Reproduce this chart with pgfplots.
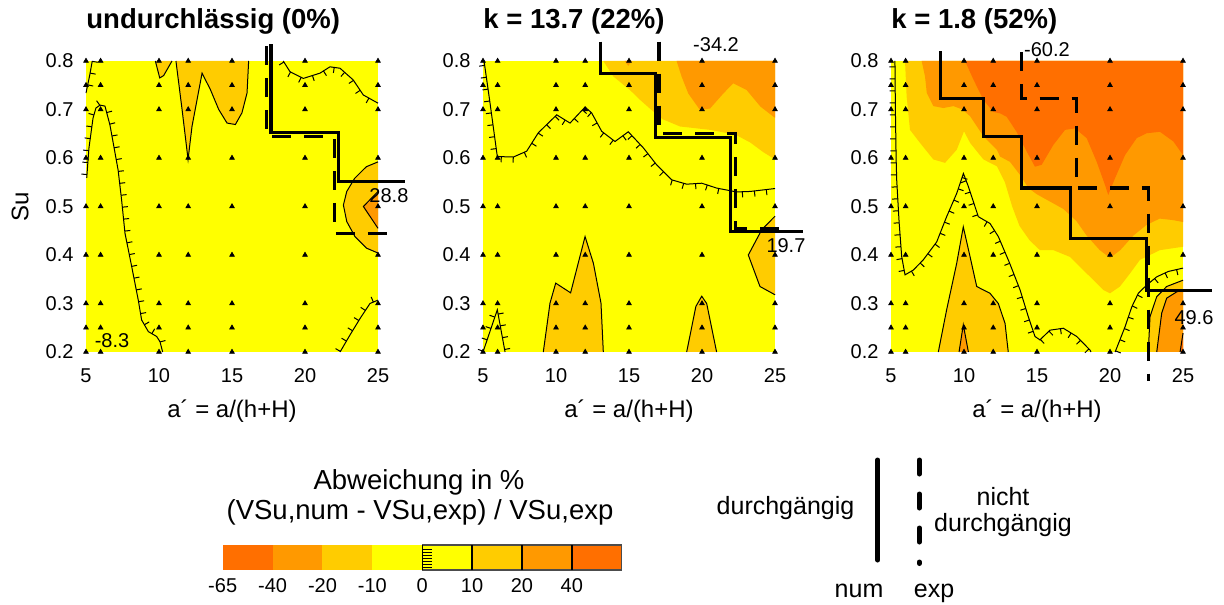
\documentclass[border=0pt]{standalone}
\usepackage{pgfplots}
\pgfplotsset{compat=1.18}
\usepackage{pgfplotstable}
\usetikzlibrary{decorations.markings}
\usepackage{fontspec}
\setmainfont{Liberation Sans}

\definecolor{cY}{HTML}{FFFF00}
\definecolor{cLO}{HTML}{FFCC00}
\definecolor{cO}{HTML}{FF9900}
\definecolor{cD}{HTML}{FF6F00}

\newcommand{\fTick}{\fontsize{10pt}{12pt}\selectfont}
\newcommand{\fLab}{\fontsize{12pt}{14pt}\selectfont}
\newcommand{\fTitle}{\fontsize{13.75pt}{16pt}\selectfont\bfseries}
\newcommand{\fLeg}{\fontsize{13.75pt}{16pt}\selectfont}
\newcommand{\fLegB}{\fontsize{12.5pt}{15pt}\selectfont}

\tikzset{
  hatchL/.style={postaction={decorate}, decoration={markings, mark=between positions 0.01 and 1 step 6pt with {\draw[line width=0.5pt] (0,0) -- (0,2.8pt);}}},
  hatchR/.style={postaction={decorate}, decoration={markings, mark=between positions 0.01 and 1 step 6pt with {\draw[line width=0.5pt] (0,0) -- (0,-2.8pt);}}},
}

\pgfplotsset{
  panel/.style={width=146pt, height=145.5pt, scale only axis, anchor=center,
    disabledatascaling,
    xmin=5, xmax=25, ymin=0.2, ymax=0.8, clip=false,
    axis line style={draw=none}, tick style={draw=none}, major tick length=0pt,
    xtick={5,10,15,20,25}, xticklabels={5,10,15,20,25},
    ytick={0.2,0.3,0.4,0.5,0.6,0.7,0.8}, yticklabels={0.2,0.3,0.4,0.5,0.6,0.7,0.8},
    ticklabel style={font=\fTick},
    xticklabel style={yshift=-4.7pt}, yticklabel style={xshift=-2.7pt},
    /pgf/number format/assume math mode=true},
  cont/.style={line width=0.5pt, black},
  stairS/.style={line width=1.6pt, black},
  stairD/.style={line width=1.6pt, black, dash pattern=on 9.5pt off 6.5pt},
  tri/.style={only marks, mark=triangle*, mark size=1.3pt, black},
}

\pgfplotstableread{
x y
5 0.2
5 0.25
5 0.3
5 0.4
5 0.5
5 0.6
5 0.7
5 0.75
5 0.8
6 0.2
6 0.25
6 0.3
6 0.4
6 0.5
6 0.6
6 0.7
6 0.75
6 0.8
10 0.2
10 0.25
10 0.3
10 0.4
10 0.5
10 0.6
10 0.7
10 0.75
10 0.8
12 0.2
12 0.25
12 0.3
12 0.4
12 0.5
12 0.6
12 0.7
12 0.75
12 0.8
15 0.2
15 0.25
15 0.3
15 0.4
15 0.5
15 0.6
15 0.7
15 0.75
15 0.8
20 0.2
20 0.25
20 0.3
20 0.4
20 0.5
20 0.6
20 0.7
20 0.75
20 0.8
25 0.2
25 0.25
25 0.3
25 0.4
25 0.5
25 0.6
25 0.7
25 0.75
25 0.8
}\gridtable

\begin{document}
\begin{tikzpicture}

% ---------- overlay (legend texts and line legend), pixel coordinates ----------
\begin{axis}[at={(306pt,151pt)}, anchor=center, width=612pt, height=302pt, scale only axis,
  xmin=0, xmax=1224, ymin=0, ymax=604, y dir=reverse, hide axis, clip=false]
\node[font=\fLeg, anchor=base, inner sep=0] at (axis cs:419,489) {Abweichung in \%};
\node[font=\fLeg, anchor=base, inner sep=0] at (axis cs:420,519) {(VSu,num - VSu,exp) / VSu,exp};
\node[font=\fLegB, anchor=base, inner sep=0] at (axis cs:785.5,514) {durchgängig};
\node[font=\fLegB, anchor=base, inner sep=0] at (axis cs:1003,505) {nicht};
\node[font=\fLegB, anchor=base, inner sep=0] at (axis cs:1003,531) {durchgängig};
\node[font=\fLegB, anchor=base, inner sep=0] at (axis cs:859,597) {num};
\node[font=\fLegB, anchor=base, inner sep=0] at (axis cs:934,597) {exp};
\addplot[black, line width=2.5pt, line cap=round] coordinates {(877.7,460) (877.7,560)};
\addplot[black, line width=2.5pt, line cap=round, dash pattern=on 7pt off 10pt] coordinates {(919.3,460) (919.3,563.5)};
\end{axis}

% ---------- colour bar ----------
\begin{axis}[at={(211.1pt,23.25pt)}, anchor=center, width=199.5pt, height=12.5pt, scale only axis,
  xmin=0, xmax=8, ymin=0, ymax=1, clip=false,
  axis line style={draw=none}, tick style={draw=none}, major tick length=0pt,
  ytick=\empty, xtick={0,1,2,3,4,5,6,7}, xticklabels={-65,-40,-20,-10,0,10,20,40},
  ticklabel style={font=\fTick}, xticklabel style={yshift=-0.7pt}]
\addplot[fill=cD, draw=none] coordinates {(0,0)(1,0)(1,1)(0,1)};
\addplot[fill=cO, draw=none] coordinates {(1,0)(2,0)(2,1)(1,1)};
\addplot[fill=cLO, draw=none] coordinates {(2,0)(3,0)(3,1)(2,1)};
\addplot[fill=cY, draw=none] coordinates {(3,0)(4,0)(4,1)(3,1)};
\addplot[fill=cY, draw=none] coordinates {(4,0)(5,0)(5,1)(4,1)};
\addplot[fill=cLO, draw=none] coordinates {(5,0)(6,0)(6,1)(5,1)};
\addplot[fill=cO, draw=none] coordinates {(6,0)(7,0)(7,1)(6,1)};
\addplot[fill=cD, draw=none] coordinates {(7,0)(8,0)(8,1)(7,1)};
\addplot[black!70, line width=0.6pt] coordinates {(4,0)(8,0)(8,1)(4,1)(4,0)};
\addplot[black, line width=0.7pt] coordinates {(4,0)(4,1)};
\addplot[black, line width=0.7pt] coordinates {(5,0)(5,1)};
\addplot[black, line width=0.7pt] coordinates {(6,0)(6,1)};
\addplot[black, line width=0.7pt] coordinates {(7,0)(7,1)};
\addplot[black, line width=0.4pt] coordinates {(4,0.1)(4.2,0.1)};
\addplot[black, line width=0.4pt] coordinates {(4,0.22)(4.2,0.22)};
\addplot[black, line width=0.4pt] coordinates {(4,0.34)(4.2,0.34)};
\addplot[black, line width=0.4pt] coordinates {(4,0.46)(4.2,0.46)};
\addplot[black, line width=0.4pt] coordinates {(4,0.58)(4.2,0.58)};
\addplot[black, line width=0.4pt] coordinates {(4,0.70)(4.2,0.70)};
\addplot[black, line width=0.4pt] coordinates {(4,0.82)(4.2,0.82)};
\end{axis}

% ---------- panel 1 ----------
\begin{axis}[panel, at={(116pt,198.75pt)}]
\addplot[fill=cY, draw=none] coordinates {(5,0.2)(25,0.2)(25,0.8)(5,0.8)};
\addplot[fill=cLO, draw=none] coordinates {(9.75,0.8)(10.05,0.765)(10.32,0.77)(10.89,0.8)};
\addplot[cont] coordinates {(9.75,0.8)(10.05,0.765)(10.32,0.77)(10.89,0.8)};
\addplot[fill=cLO, draw=none] coordinates {(11.16,0.8)(11.58,0.70)(11.99,0.597)(12.26,0.665)(12.95,0.775)(13.52,0.741)(14.09,0.70)(14.66,0.672)(15.23,0.669)(15.68,0.693)(16.03,0.734)(16.14,0.8)};
\addplot[cont] coordinates {(11.16,0.8)(11.58,0.70)(11.99,0.597)(12.26,0.665)(12.95,0.775)(13.52,0.741)(14.09,0.70)(14.66,0.672)(15.23,0.669)(15.68,0.693)(16.03,0.734)(16.14,0.8)};
\addplot[fill=cLO, draw=none] coordinates {(25,0.592)(24.2,0.582)(23.4,0.558)(22.86,0.531)(22.63,0.503)(22.86,0.469)(23.42,0.438)(24.22,0.414)(25,0.404)};
\addplot[cont] coordinates {(25,0.592)(24.2,0.582)(23.4,0.558)(22.86,0.531)(22.63,0.503)(22.86,0.469)(23.42,0.438)(24.22,0.414)(25,0.404)};
\addplot[fill=cO, draw=none] coordinates {(25,0.531)(24.0,0.5)(25,0.455)};
\addplot[cont] coordinates {(25,0.531)(24.0,0.5)(25,0.455)};
\addplot[cont, hatchL] coordinates {(5.43,0.8)(5.25,0.77)(5.0,0.734)};
\addplot[cont, hatchL] coordinates {(5.05,0.559)(5.2,0.62)(5.48,0.682)(5.68,0.703)(5.96,0.709)(6.3,0.707)(6.64,0.668)(6.87,0.630)(7.2,0.575)(7.44,0.513)(7.67,0.445)(8.13,0.376)(8.58,0.307)(8.81,0.266)(9.27,0.242)(9.84,0.232)(10.07,0.221)(10.25,0.2)};
\addplot[cont, hatchR] coordinates {(18.51,0.8)(18.97,0.778)(19.88,0.764)(21.03,0.775)(21.71,0.788)(22.4,0.785)(23.3,0.761)(23.99,0.73)(25,0.713)};
\addplot[cont, hatchL] coordinates {(22.4,0.2)(23.08,0.235)(23.77,0.269)(24.45,0.3)(25,0.307)};
\addplot[tri] table {\gridtable};
\addplot[stairS] coordinates {(17.67,0.834)(17.67,0.653)(22.3,0.653)(22.3,0.552)(26.87,0.552)};
\addplot[stairD] coordinates {(17.37,0.83)(17.37,0.644)(22.0,0.644)(22.0,0.445)(26.4,0.445)};
\node[font=\fTick] at (axis cs:6.78,0.223) {-8.3};
\node[font=\fTick] at (axis cs:25.75,0.522) {28.8};
\node[font=\fTitle, anchor=base west, inner sep=0] at ([yshift=16pt]axis description cs:0,1) {undurchlässig (0\%)};
\node[font=\fLab, anchor=base, inner sep=0] at ([yshift=-33pt]axis description cs:0.5,0) {a´ = a/(h+H)};
\node[font=\fLab, rotate=90, anchor=center, inner sep=0] at ([xshift=-33pt]axis description cs:0,0.5) {Su};
\end{axis}

% ---------- panel 2 ----------
\begin{axis}[panel, at={(314.5pt,198.75pt)}]
\addplot[fill=cY, draw=none] coordinates {(5,0.2)(25,0.2)(25,0.8)(5,0.8)};
\addplot[fill=cLO, draw=none] coordinates {(13.24,0.8)(13.93,0.768)(15.07,0.74)(15.75,0.72)(16.5,0.70)(17.3,0.68)(18.49,0.665)(20.55,0.658)(22.3,0.648)(23.3,0.632)(24.2,0.612)(25,0.597)(25,0.8)};
\addplot[fill=cO, draw=none] coordinates {(14.7,0.8)(14.95,0.79)(15.2,0.8)};
\addplot[fill=cO, draw=none] coordinates {(18.26,0.8)(18.6,0.768)(19.06,0.733)(19.86,0.699)(20.55,0.702)(21.46,0.733)(22.14,0.754)(23.06,0.74)(24.0,0.706)(24.9,0.685)(25,0.683)(25,0.8)};
\addplot[fill=cLO, draw=none] coordinates {(9.13,0.2)(9.59,0.301)(9.98,0.342)(11.0,0.322)(11.99,0.438)(12.56,0.383)(13.08,0.301)(13.24,0.2)};
\addplot[cont] coordinates {(9.13,0.2)(9.59,0.301)(9.98,0.342)(11.0,0.322)(11.99,0.438)(12.56,0.383)(13.08,0.301)(13.24,0.2)};
\addplot[fill=cLO, draw=none] coordinates {(18.95,0.2)(19.58,0.294)(19.98,0.315)(20.32,0.3)(21.0,0.2)};
\addplot[cont] coordinates {(18.95,0.2)(19.58,0.294)(19.98,0.315)(20.32,0.3)(21.0,0.2)};
\addplot[fill=cLO, draw=none] coordinates {(25,0.48)(24.09,0.452)(23.17,0.4)(23.97,0.335)(25,0.318)};
\addplot[cont] coordinates {(25,0.48)(24.09,0.452)(23.17,0.4)(23.97,0.335)(25,0.318)};
\addplot[cont, hatchR] coordinates {(5.07,0.8)(5.45,0.72)(5.98,0.603)(7.08,0.602)(7.99,0.614)(8.79,0.652)(9.47,0.672)(10.05,0.689)(10.96,0.672)(11.99,0.705)(12.44,0.693)(13.13,0.655)(14.04,0.634)(14.95,0.654)(15.98,0.621)(16.89,0.586)(17.92,0.555)(18.95,0.546)(19.98,0.548)(21.0,0.538)(22.37,0.530)(23.29,0.531)(25,0.537)};
\addplot[cont, hatchL] coordinates {(5,0.2)(5.98,0.287)(6.51,0.2)};
\addplot[tri] table {\gridtable};
\addplot[stairS] coordinates {(13.06,0.84)(13.06,0.775)(16.83,0.775)(16.83,0.643)(21.96,0.643)(21.96,0.448)(26.94,0.448)};
\addplot[stairD] coordinates {(17.05,0.84)(17.05,0.651)(22.3,0.651)(22.3,0.455)(26.0,0.455)};
\node[font=\fTick] at (axis cs:20.96,0.833) {-34.2};
\node[font=\fTick] at (axis cs:25.75,0.42) {19.7};
\node[font=\fTitle, anchor=base west, inner sep=0] at ([yshift=16pt]axis description cs:0,1) {k = 13.7 (22\%)};
\node[font=\fLab, anchor=base, inner sep=0] at ([yshift=-33pt]axis description cs:0.5,0) {a´ = a/(h+H)};
\end{axis}

% ---------- panel 3 ----------
\begin{axis}[panel, at={(518.5pt,198.75pt)}]
\addplot[fill=cY, draw=none] coordinates {(5,0.2)(25,0.2)(25,0.8)(5,0.8)};
\addplot[fill=cLO, draw=none] coordinates {(5.96,0.8)(6.07,0.727)(6.3,0.658)(6.99,0.631)(7.9,0.597)(8.7,0.59)(9.5,0.617)(10.0,0.655)(10.42,0.631)(11.33,0.597)(12.25,0.583)(12.8,0.55)(13.3,0.5)(13.8,0.46)(14.5,0.43)(15.2,0.41)(16.12,0.41)(17.26,0.396)(18.4,0.362)(19.54,0.328)(20.0,0.321)(20.68,0.335)(21.37,0.362)(22.05,0.39)(23.42,0.41)(25,0.417)(25,0.8)};
\addplot[fill=cO, draw=none] coordinates {(7.1,0.8)(7.33,0.768)(7.45,0.734)(7.9,0.707)(8.59,0.703)(9.27,0.707)(9.9,0.70)(10.42,0.686)(11.33,0.645)(12.25,0.617)(12.47,0.603)(13.15,0.592)(13.84,0.565)(14.41,0.538)(15.0,0.525)(15.9,0.51)(16.8,0.495)(17.7,0.47)(18.4,0.44)(19.3,0.41)(20.0,0.394)(20.7,0.41)(21.6,0.44)(22.5,0.462)(23.4,0.475)(24.3,0.472)(25,0.468)(25,0.8)};
\addplot[fill=cD, draw=none] coordinates {(10.07,0.8)(10.64,0.762)(11.33,0.72)(12.0,0.695)(12.47,0.692)(12.92,0.685)(13.6,0.654)(14.3,0.613)(14.86,0.582)(15.32,0.586)(16.12,0.627)(16.92,0.658)(17.6,0.661)(18.4,0.641)(19.09,0.592)(19.66,0.544)(19.88,0.524)(20.34,0.558)(21.03,0.606)(21.83,0.641)(22.51,0.651)(23.42,0.654)(24.34,0.634)(25,0.606)(25,0.8)};
\addplot[fill=cLO, draw=none] coordinates {(8.24,0.2)(8.81,0.287)(9.5,0.383)(9.95,0.458)(10.41,0.397)(10.87,0.335)(11.78,0.321)(12.35,0.30)(12.81,0.259)(13.03,0.2)};
\addplot[cont] coordinates {(8.24,0.2)(8.81,0.287)(9.5,0.383)(9.95,0.458)(10.41,0.397)(10.87,0.335)(11.78,0.321)(12.35,0.30)(12.81,0.259)(13.03,0.2)};
\addplot[fill=cO, draw=none] coordinates {(9.66,0.2)(9.95,0.256)(10.3,0.2)};
\addplot[cont] coordinates {(9.66,0.2)(9.95,0.256)(10.3,0.2)};
\addplot[fill=cLO, draw=none] coordinates {(22.62,0.2)(22.74,0.273)(23.2,0.314)(23.88,0.335)(25,0.348)(25,0.2)};
\addplot[cont] coordinates {(22.62,0.2)(22.74,0.273)(23.2,0.314)(23.88,0.335)(25,0.348)};
\addplot[fill=cO, draw=none] coordinates {(23.2,0.2)(23.54,0.28)(23.88,0.311)(24.57,0.324)(25,0.328)(25,0.2)};
\addplot[cont] coordinates {(23.2,0.2)(23.54,0.28)(23.88,0.311)(24.57,0.324)(25,0.328)};
\addplot[fill=cD, draw=none] coordinates {(24.8,0.2)(25,0.239)(25,0.2)};
\addplot[cont] coordinates {(24.8,0.2)(25,0.239)};
\addplot[cont, hatchR] coordinates {(5.27,0.8)(5.3,0.7)(5.35,0.6)(5.39,0.555)(5.55,0.47)(5.73,0.397)(5.96,0.359)(6.53,0.369)(7.21,0.39)(8.13,0.427)(8.81,0.479)(9.5,0.527)(9.96,0.568)(10.3,0.541)(10.98,0.479)(11.78,0.465)(12.35,0.438)(13.1,0.385)(13.84,0.328)(14.4,0.273)(14.86,0.232)(15.2,0.225)(15.89,0.245)(16.8,0.249)(17.72,0.232)(18.63,0.204)(18.7,0.2)};
\addplot[cont, hatchR] coordinates {(20.35,0.2)(21.03,0.252)(21.49,0.293)(21.94,0.321)(22.51,0.338)(23.2,0.355)(23.99,0.366)(25,0.373)};
\addplot[tri] table {\gridtable};
\addplot[stairS] coordinates {(8.4,0.82)(8.4,0.722)(11.33,0.722)(11.33,0.645)(13.95,0.645)(13.95,0.538)(17.3,0.538)(17.3,0.434)(22.51,0.434)(22.51,0.326)(26.99,0.326)};
\addplot[stairD] coordinates {(13.95,0.818)(13.95,0.723)(17.7,0.723)(17.7,0.538)(22.62,0.538)(22.62,0.14)};
\node[font=\fTick] at (axis cs:15.68,0.823) {-60.2};
\node[font=\fTick] at (axis cs:25.75,0.27) {49.6};
\node[font=\fTitle, anchor=base west, inner sep=0] at ([yshift=16pt]axis description cs:0,1) {k = 1.8 (52\%)};
\node[font=\fLab, anchor=base, inner sep=0] at ([yshift=-33pt]axis description cs:0.5,0) {a´ = a/(h+H)};
\end{axis}

\pgfresetboundingbox
\path[use as bounding box] (0,0) rectangle (612pt,302pt);
\end{tikzpicture}
\end{document}
